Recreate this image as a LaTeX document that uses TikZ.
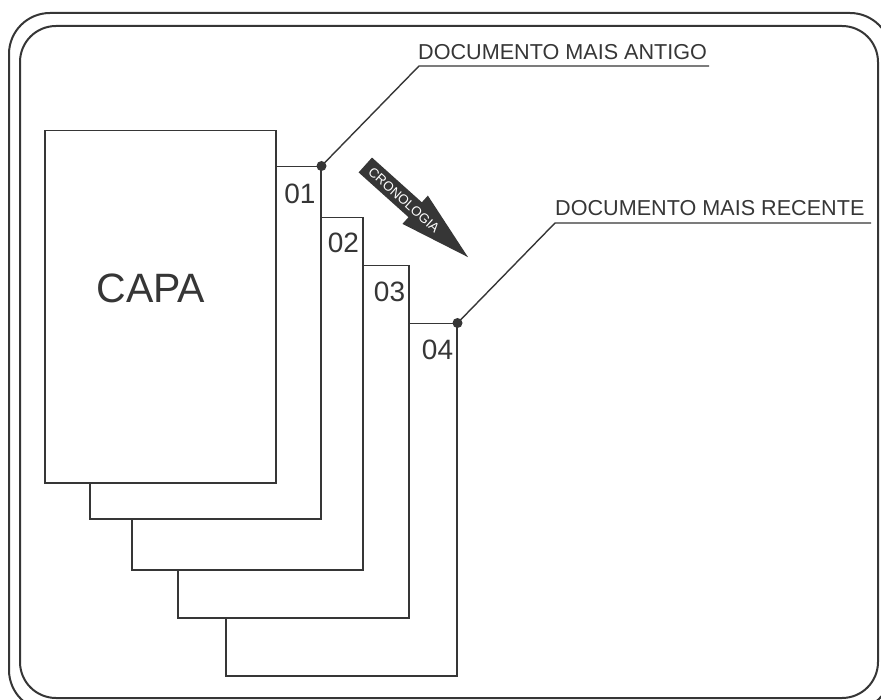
\documentclass[tikz,border=0pt]{standalone}
\usepackage{fontspec}
\setmainfont{Liberation Sans}
\definecolor{ink}{HTML}{363636}
\begin{document}
\begin{tikzpicture}[x=1pt,y=-1pt,
  frame/.style={draw=ink,line width=2pt},
  page/.style={draw=ink,fill=white,line width=1.5pt,minimum width=231pt,minimum height=352pt,inner sep=0pt,anchor=north west},
  num/.style={text=ink,font=\fontsize{28}{30}\selectfont,inner sep=0pt},
  lead/.style={draw=ink,line width=1.4pt},
  lbl/.style={text=ink,font=\fontsize{21.6}{24}\selectfont,inner sep=0pt,anchor=base west},
  dot/.style={circle,fill=ink,inner sep=0pt,minimum size=10pt}]
\useasboundingbox (0,0) rectangle (881,700);
\clip (0,0) rectangle (881,700);
% frames
\draw[frame,rounded corners=41pt] (9,13) rectangle (891,711);
\draw[frame,rounded corners=36pt] (20,26) rectangle (878,698);
% pages, back to front
\node[page] (p4) at (225,323) {};
\node[page] (p3) at (177,265) {};
\node[page] (p2) at (131,217) {};
\node[page] (p1) at (89,166) {};
\node[page] (capa) at (44,130) {};
\node[text=ink,font=\fontsize{41}{44}\selectfont,inner sep=0pt] (capalbl) at (151,288) {CAPA};
% numbers
\node[num] (n1) at ([xshift=-21.5pt,yshift=-28pt]p1.north east) {01};
\node[num] (n2) at ([xshift=-20pt,yshift=-26pt]p2.north east) {02};
\node[num] (n3) at ([xshift=-20pt,yshift=-27pt]p3.north east) {03};
\node[num] (n4) at ([xshift=-20pt,yshift=-27pt]p4.north east) {04};
% labels
\node[lbl] (t1) at (418,60) {DOCUMENTO MAIS ANTIGO};
\coordinate (a1) at (419,66);
\coordinate (b1) at (709,66);
\node[lbl] (t2) at (555,216) {DOCUMENTO MAIS RECENTE};
\coordinate (a2) at (555,223);
\coordinate (b2) at (871,223);
\draw[lead] (p1.north east) -- (a1) -- (b1);
\draw[lead] (p4.north east) -- (a2) -- (b2);
\node[dot] (d1) at (p1.north east) {};
\node[dot] (d4) at (p4.north east) {};
% chronology arrow
\begin{scope}[shift={(365.3,165)},rotate=-41.9]
\fill[ink] (0,-10) -- (67,-10) -- (67,-19) -- (138,0) -- (67,19) -- (67,10) -- (0,10) -- cycle;
\end{scope}
\node[text=white,font=\fontsize{13.3}{14}\selectfont,inner sep=0pt,rotate=-41.9] (chrono) at (404,200) {CRONOLOGIA};
\end{tikzpicture}
\end{document}
